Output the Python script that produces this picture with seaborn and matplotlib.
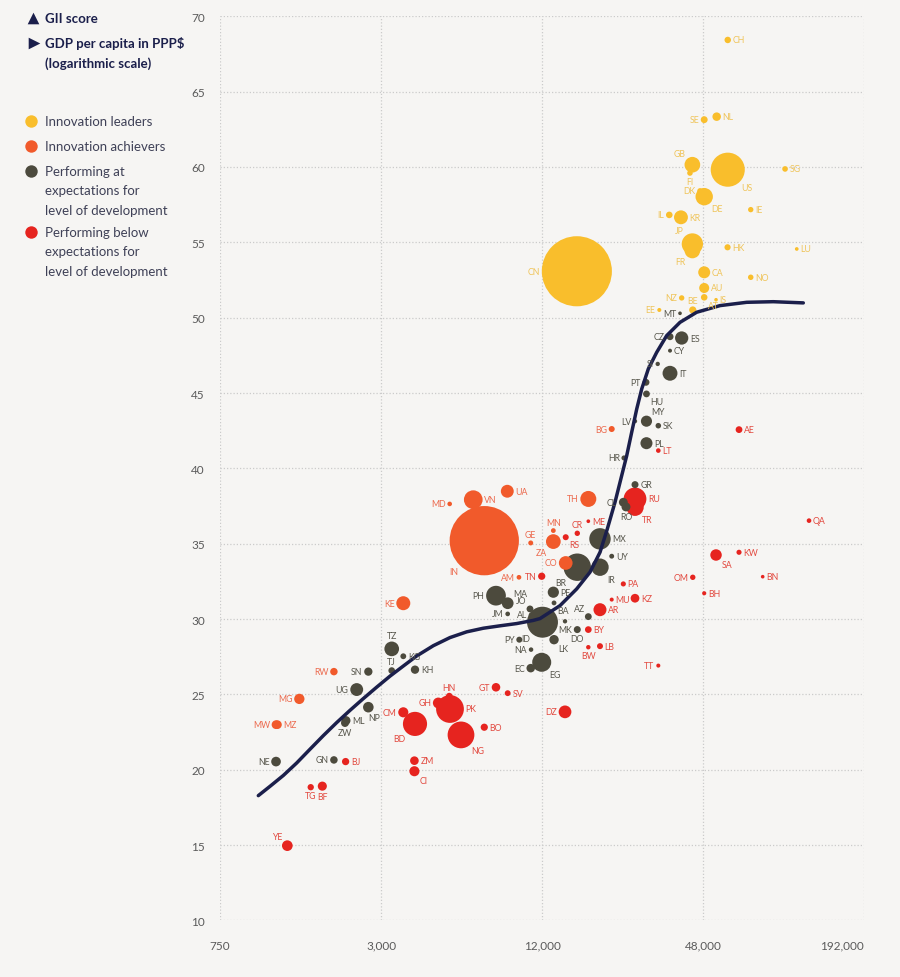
import numpy as np
import pandas as pd
import matplotlib
matplotlib.use("Agg")
import matplotlib.pyplot as plt
import seaborn as sns

# ---------------- data ----------------
codes = ["CH", "NL", "SE", "GB", "FI", "US", "SG", "DE", "DK", "IE", "IL", "KR", "JP", "FR", "HK", "LU",
         "CA", "NO", "AU", "NZ", "AT", "IS", "BE", "EE", "CN",
         "VN", "IN", "UA", "MD", "GE", "MN", "ZA", "CR", "RS", "CO", "TH", "TN", "AM", "KE", "ME", "BG",
         "RW", "MG", "MW", "MZ",
         "MX", "BR", "IR", "UY", "GR", "CL", "RO", "PE", "BA", "PH", "MA", "JM", "ID", "JO", "AL", "MK",
         "AZ", "DO", "LK", "PY", "NA", "EC", "EG", "TZ", "KG", "TJ", "KH", "SN", "UG", "NP", "ML", "ZW",
         "NE", "GN", "CZ", "ES", "CY", "SI", "IT", "PT", "HU", "LV", "MY", "SK", "PL", "HR", "MT",
         "RU", "TR", "HN", "GH", "PK", "CM", "BD", "NG", "BO", "GT", "SV", "ZM", "CI", "BJ", "TG", "BF",
         "YE", "DZ", "BY", "AR", "MU", "KZ", "PA", "LB", "BW", "TT", "QA", "SA", "KW", "BN", "OM", "BH",
         "AE", "LT"]

gdp_ppp = [59400, 54000, 48500, 43800, 42900, 59400, 97300, 48500, 46800, 72400, 35900, 39700, 43800, 43800, 59300, 107600,
           48500, 72400, 48500, 39950, 48500, 53700, 43950, 32950, 16200,
           6640, 7300, 8900, 5420, 10890, 13230, 13230, 16260, 14720, 14720, 17880, 11970, 9840, 3635, 17880, 21870,
           2000, 1485, 1215, 1230,
           19770, 16260, 19770, 21870, 26730, 24170, 24730, 13230, 13310, 8075, 8930, 8930, 12050, 10820, 10920, 14630,
           17880, 16260, 13310, 9870, 10920, 10890, 11970, 3290, 3635, 3290, 4020, 2690, 2434, 2690, 2219, 2200,
           1215, 2000, 36130, 39950, 36130, 32500, 36130, 29380, 29500, 26730, 29500, 32670, 29500, 24310, 39380,
           26730, 26730, 5400, 4913, 5434, 3635, 4020, 5974, 7300, 8075, 8930, 4000, 4000, 2212, 1638, 1810,
           1339, 14630, 17880, 19770, 21870, 26730, 24170, 19770, 17880, 32670, 119600, 53700, 65450, 80250, 43950, 48500,
           65450, 32670]

gii_score = [68.43, 63.34, 63.14, 60.15, 59.60, 59.82, 59.87, 58.03, 58.41, 57.17, 56.82, 56.66, 54.89, 54.46, 54.67, 54.56,
             53.01, 52.68, 51.97, 51.31, 51.35, 51.19, 50.51, 50.51, 53.08,
             37.92, 35.20, 38.48, 37.64, 35.05, 35.87, 35.14, 35.69, 35.43, 33.72, 37.97, 32.84, 32.77, 31.05, 36.49, 42.61,
             26.51, 24.70, 22.99, 22.99,
             35.32, 33.44, 33.44, 34.17, 38.92, 37.75, 37.44, 31.78, 31.07, 31.55, 31.05, 30.34, 29.79, 30.67, 30.27, 29.85,
             30.16, 29.30, 28.63, 28.63, 27.97, 26.74, 27.13, 28.02, 27.53, 26.58, 26.64, 26.51, 25.32, 24.15, 23.26, 23.10,
             20.54, 20.65, 48.74, 48.65, 47.81, 46.93, 46.31, 45.71, 44.94, 43.13, 43.13, 42.83, 41.67, 40.69, 50.29,
             37.97, 37.42, 24.88, 24.43, 24.03, 23.81, 23.04, 22.31, 22.82, 25.47, 25.08, 20.60, 19.90, 20.54, 18.84, 18.91,
             14.96, 23.84, 29.30, 30.62, 31.29, 31.38, 32.33, 28.20, 28.13, 26.91, 36.53, 34.25, 34.43, 32.81, 32.77, 31.71,
             42.57, 41.18]

population_m = [8.6, 17.3, 10.3, 66.8, 5.5, 328, 5.7, 83, 5.8, 4.9, 9.0, 51.7, 126, 67, 7.5, 0.6,
                37.6, 5.3, 25.4, 4.9, 8.9, 0.36, 11.5, 1.3, 1398,
                96.5, 1366, 44, 2.7, 3.7, 3.2, 58.6, 5.0, 7.0, 50.3, 69.6, 11.7, 3.0, 52.6, 0.6, 7.0,
                12.6, 27, 18.6, 18,
                127.6, 211, 83, 3.5, 10.7, 19, 19.4, 32.5, 3.3, 108, 36, 2.9, 270, 10, 2.9, 2.1,
                10, 10.7, 21.8, 7, 2.5, 17.4, 100, 58, 6.4, 9.3, 16.5, 16.3, 44, 28.6, 19.7, 14.6,
                23.3, 12.8, 10.7, 47, 1.2, 2.1, 60, 10.3, 9.8, 1.9, 32, 5.5, 38, 4.1, 0.5,
                144.5, 83, 9.7, 30, 217, 25.9, 163, 201, 11.5, 17.6, 6.5, 17.9, 25.7, 11.8, 8.1, 20.3,
                29.2, 43, 9.5, 44.9, 1.3, 18.5, 4.2, 6.9, 2.3, 1.4, 2.8, 34.3, 4.2, 0.43, 5.0, 1.6,
                9.8, 2.8]

# L = leaders, A = achievers, E = at expectations, B = below expectations
group_codes = ("L" * 25 +
               "AAAAAAABBAABAABAAAAA" +
               "E" * 47 +
               "B" * 34)
group_names = {"L": "Innovation leaders", "A": "Innovation achievers",
               "E": "Performing at expectations", "B": "Performing below expectations"}

# trend curve
curve_gdp = [1043, 1154, 1294, 1452, 1628, 1825, 2049, 2297, 2576, 2891, 3242, 3635, 4080, 4707, 5434,
             6275, 7239, 8358, 9652, 11134, 11796, 14013, 16180, 18143, 19774, 21058, 22500, 23835,
             24885, 25980, 27128, 28320, 29978, 32220, 35115, 39383, 45458, 55575, 69938, 87938, 113850]
curve_gii = [18.28, 18.90, 19.62, 20.45, 21.36, 22.26, 23.13, 23.94, 24.72, 25.48, 26.21, 26.88, 27.55,
             28.23, 28.77, 29.15, 29.39, 29.55, 29.70, 29.91, 30.03, 30.89, 32.00, 33.11, 34.43, 35.98,
             37.75, 39.52, 40.84, 42.40, 43.94, 45.27, 46.60, 47.70, 48.81, 49.69, 50.36, 50.80, 51.02,
             51.06, 50.98]

x_ticks = [750, 3000, 12000, 48000, 192000]
x_ticklabels = ["750", "3,000", "12,000", "48,000", "192,000"]
y_ticks = list(range(10, 71, 5))

# ---------------- styles ----------------
palette = {"Innovation leaders": "#F9BE2C",
           "Innovation achievers": "#F15A2B",
           "Performing at expectations": "#4C4A3D",
           "Performing below expectations": "#E6241F"}
label_colors = {"Innovation leaders": "#EFC45A",
                "Innovation achievers": "#EC6A4E",
                "Performing at expectations": "#57564C",
                "Performing below expectations": "#E24A40"}
label_dir = {
    'CH': 'r', 'NL': 'r', 'SE': 'l', 'GB': 'tl', 'FI': 'b', 'US': 'br', 'SG': 'r', 'DE': 'br', 'DK': 'l',
    'IE': 'r', 'IL': 'l', 'KR': 'r', 'JP': 'tl', 'FR': 'bl', 'HK': 'r', 'LU': 'r', 'CA': 'r', 'NO': 'r',
    'AU': 'r', 'NZ': 'l', 'AT': 'br', 'IS': 'r', 'BE': 't', 'EE': 'l', 'CN': 'l', 'MT': 'l',
    'VN': 'r', 'IN': 'bl', 'UA': 'r', 'MD': 'l', 'GE': 't', 'MN': 't', 'ZA': 'bl', 'CR': 't', 'RS': 'br',
    'CO': 'l', 'TH': 'l', 'TN': 'l', 'AM': 'l', 'KE': 'l', 'ME': 'r', 'BG': 'l', 'RW': 'l', 'MG': 'l',
    'MW': 'l', 'MZ': 'r',
    'MX': 'r', 'BR': 'bl', 'IR': 'br', 'UY': 'r', 'GR': 'r', 'CL': 'l', 'RO': 'b', 'PE': 'r', 'BA': 'br',
    'PH': 'l', 'MA': 'tr', 'JM': 'l', 'JO': 'tl', 'AL': 'l', 'ID': 'bl', 'MK': 'b', 'AZ': 'tl', 'DO': 'b',
    'LK': 'br', 'PY': 'l', 'NA': 'l', 'EC': 'l', 'EG': 'br', 'TZ': 't', 'KG': 'r', 'TJ': 't', 'KH': 'r',
    'SN': 'l', 'UG': 'l', 'NP': 'bR', 'ML': 'r', 'ZW': 'b', 'NE': 'l', 'GN': 'l', 'CZ': 'l', 'ES': 'r',
    'CY': 'r', 'SI': 'l', 'IT': 'r', 'PT': 'l', 'HU': 'br', 'LV': 'l', 'MY': 'tr', 'SK': 'r', 'PL': 'r',
    'HR': 'l',
    'RU': 'r', 'TR': 'br', 'HN': 't', 'GH': 'l', 'PK': 'r', 'CM': 'l', 'BD': 'bl', 'NG': 'br', 'BO': 'r',
    'GT': 'l', 'SV': 'r', 'ZM': 'r', 'CI': 'br', 'BJ': 'r', 'TG': 'b', 'BF': 'b', 'YE': 'tl', 'DZ': 'l',
    'BY': 'r', 'AR': 'r', 'MU': 'r', 'KZ': 'r', 'PA': 'r', 'LB': 'r', 'BW': 'b', 'TT': 'l', 'QA': 'r',
    'SA': 'br', 'KW': 'r', 'BN': 'r', 'OM': 'l', 'BH': 'r', 'AE': 'r', 'LT': 'r'}

BG = "#F6F5F3"
NAVY = "#1B1F4B"
SIZE_MIN, SIZE_MAX, POP_MAX = 6, 2550, 1400

sns.set_theme(style="white")
plt.rcParams["font.family"] = ["Lato", "DejaVu Sans"]

df = pd.DataFrame({"code": codes, "gdp": gdp_ppp, "gii": gii_score,
                   "pop": population_m, "group": [group_names[c] for c in group_codes]})
df = df.sort_values("pop", ascending=False, kind="stable").reset_index(drop=True)

W, H = 900, 978
fig = plt.figure(figsize=(W / 100, H / 100), dpi=100, facecolor=BG)

# overlay for the side legend (pixel coordinates)
lax = fig.add_axes([0, 0, 1, 1], zorder=0)
lax.set_xlim(0, W)
lax.set_ylim(H, 0)
lax.axis("off")

left, right, top, bottom = 220, 864, 17.3, 921.4
ax = fig.add_axes([left / W, 1 - bottom / H, (right - left) / W, (bottom - top) / H], zorder=1)
ax.set_facecolor("none")

sns.scatterplot(data=df, x="gdp", y="gii", hue="group", palette=palette,
                size="pop", sizes=(SIZE_MIN, SIZE_MAX), size_norm=(0, POP_MAX),
                linewidth=0, edgecolor="none", alpha=1, legend=False, ax=ax, zorder=3)

sns.lineplot(x=curve_gdp, y=curve_gii, sort=False, estimator=None, color=NAVY,
             linewidth=2.5, ax=ax, zorder=4, solid_joinstyle="round", solid_capstyle="round")

ax.set_xscale("log")
ax.set_xlim(750, 192000)
ax.set_ylim(10, 70)
ax.set_xticks(x_ticks)
ax.set_xticklabels(x_ticklabels)
ax.xaxis.set_minor_locator(matplotlib.ticker.NullLocator())
ax.set_yticks(y_ticks)
ax.set_yticklabels([str(v) for v in y_ticks])
ax.set_xlabel("")
ax.set_ylabel("")
for s in ax.spines.values():
    s.set_visible(False)
ax.grid(True, color="#CBCBCB", linestyle=(0, (1, 1.6)), linewidth=0.9, zorder=0)
ax.set_axisbelow(True)
ax.tick_params(axis="both", length=0, labelsize=8.5, colors="#5A5A5A")
ax.tick_params(axis="x", pad=14)
ax.tick_params(axis="y", pad=11)
xt = ax.get_xticklabels()
xt[-1].set_ha("right")

# country labels
for _, row in df.iterrows():
    s = SIZE_MIN + row["pop"] / POP_MAX * (SIZE_MAX - SIZE_MIN)
    r = np.sqrt(s) / 2
    d = label_dir.get(row["code"], "r")
    g = r * 0.72 + 0.8
    if d == "r":
        off, ha, va = (r + 1.2, 0), "left", "center"
    elif d == "l":
        off, ha, va = (-(r + 1.2), 0), "right", "center"
    elif d == "t":
        off, ha, va = (0, r + 0.8), "center", "bottom"
    elif d == "b":
        off, ha, va = (0, -(r + 0.8)), "center", "top"
    elif d == "bR":
        off, ha, va = (-0.3, -(r + 0.6)), "left", "top"
    elif d == "tl":
        off, ha, va = (-g, g), "right", "bottom"
    elif d == "tr":
        off, ha, va = (g, g), "left", "bottom"
    elif d == "bl":
        off, ha, va = (-g, -g), "right", "top"
    else:
        off, ha, va = (g, -g), "left", "top"
    ax.annotate(row["code"], (row["gdp"], row["gii"]), xytext=off, textcoords="offset points",
                ha=ha, va=va, fontsize=6.3, color=label_colors[row["group"]], zorder=5)

# side legend
lax.scatter([33], [19], marker="^", s=70, color=NAVY, linewidths=0)
lax.scatter([34], [44], marker=">", s=70, color=NAVY, linewidths=0)
lax.text(45, 19, "GII score", fontsize=9.5, fontweight="bold", color=NAVY, va="center")
lax.text(45, 44, "GDP per capita in PPP$", fontsize=9.5, fontweight="bold", color=NAVY, va="center")
lax.text(45, 64, "(logarithmic scale)", fontsize=9.5, fontweight="bold", color=NAVY, va="center")

legend_items = [("Innovation leaders", 122, ["Innovation leaders"]),
                ("Innovation achievers", 147, ["Innovation achievers"]),
                ("Performing at expectations", 172, ["Performing at", "expectations for", "level of development"]),
                ("Performing below expectations", 233, ["Performing below", "expectations for", "level of development"])]
for key, y0, lines in legend_items:
    lax.scatter([31], [y0], s=80, color=palette[key], linewidths=0)
    for i, line in enumerate(lines):
        lax.text(45, y0 + i * 19.3, line, fontsize=9.5, color="#3F4157", va="center")

fig.savefig("out.png", dpi=100, facecolor=BG)
